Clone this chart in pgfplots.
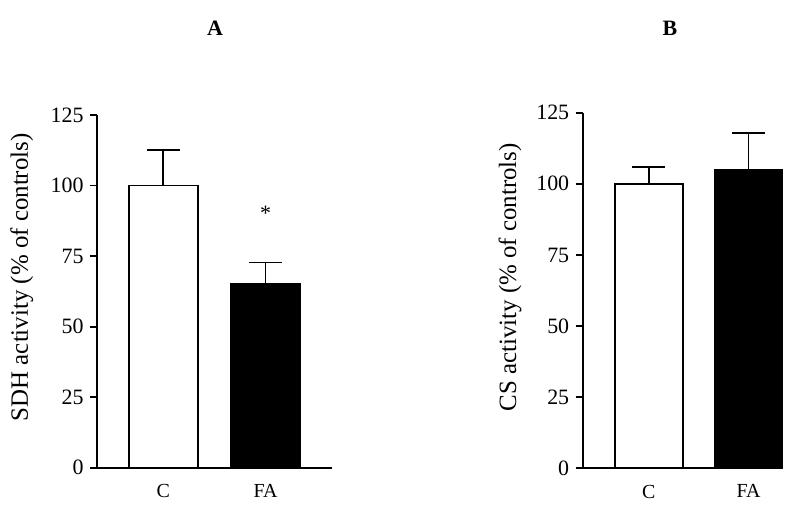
\documentclass[border=0pt]{standalone}
\usepackage{fontspec}
\setmainfont{Liberation Serif}
\usepackage{pgfplots}
\pgfplotsset{compat=1.18}

\pgfplotsset{
  panel/.style={
    scale only axis,
    ybar, bar shift=0pt,
    ymin=0, ymax=125, ytick={0,25,...,125},
    xtick={1,2}, xticklabels={C,FA},
    axis x line*=bottom, axis y line*=left,
    axis line style={-, line width=1.8bp},
    x axis line style={-}, y axis line style={-},
    tick align=outside,
    major tick length=7bp,
    every tick/.style={black, line width=1.8bp},
    major x tick style={draw=none},
    /pgf/number format/assume math mode=true,
    yticklabel style={font=\fontsize{22}{26}\selectfont, xshift=-3bp},
    xticklabel style={font=\fontsize{20}{24}\selectfont, yshift=-6bp},
    ylabel style={font=\fontsize{25}{30}\selectfont, anchor=center},
    clip=false,
    error bars/y dir=plus, error bars/y explicit,
    error bars/error mark=|,
    error bars/error bar style={line width=1.8bp, black},
    error bars/error mark options={black, line width=1.8bp, mark size=16.5bp},
  },
}

\begin{document}
\begin{tikzpicture}
\path[use as bounding box] (0,0) rectangle (800bp,511bp);

% panel A
\begin{axis}[panel,
  at={(97bp,43.3bp)}, anchor=south west,
  width=234.7bp, height=352.7bp,
  xmin=0.353, xmax=2.647, bar width=0.675,
  ylabel={SDH activity (\% of controls)},
  ylabel style={at={(axis description cs:-0.32,0.54)}},
]
\addplot[fill=white, draw=black, line width=1.8bp] coordinates {(1,100) +- (0,12.5)};
\addplot[fill=black, draw=black, line width=1.8bp] coordinates {(2,65) +- (0,7.7)};
\node[anchor=base, font=\fontsize{22}{26}\selectfont] at (axis cs:2,87.5) {*};
\end{axis}

% panel B
\begin{axis}[panel,
  at={(582.7bp,42.7bp)}, anchor=south west,
  width=200bp, height=355.6bp,
  xmin=0.337, xmax=2.343, bar width=0.68,
  ylabel={CS activity (\% of controls)},
  ylabel style={at={(axis description cs:-0.363,0.537)}},
]
\addplot[fill=white, draw=black, line width=1.8bp] coordinates {(1,100) +- (0,6)};
\addplot[fill=black, draw=black, line width=1.8bp] coordinates {(2,105) +- (0,13)};
\end{axis}

\node[font=\bfseries\fontsize{22}{26}\selectfont] at (215bp,483bp) {A};
\node[font=\bfseries\fontsize{22}{26}\selectfont] at (670bp,483bp) {B};
\end{tikzpicture}
\end{document}
